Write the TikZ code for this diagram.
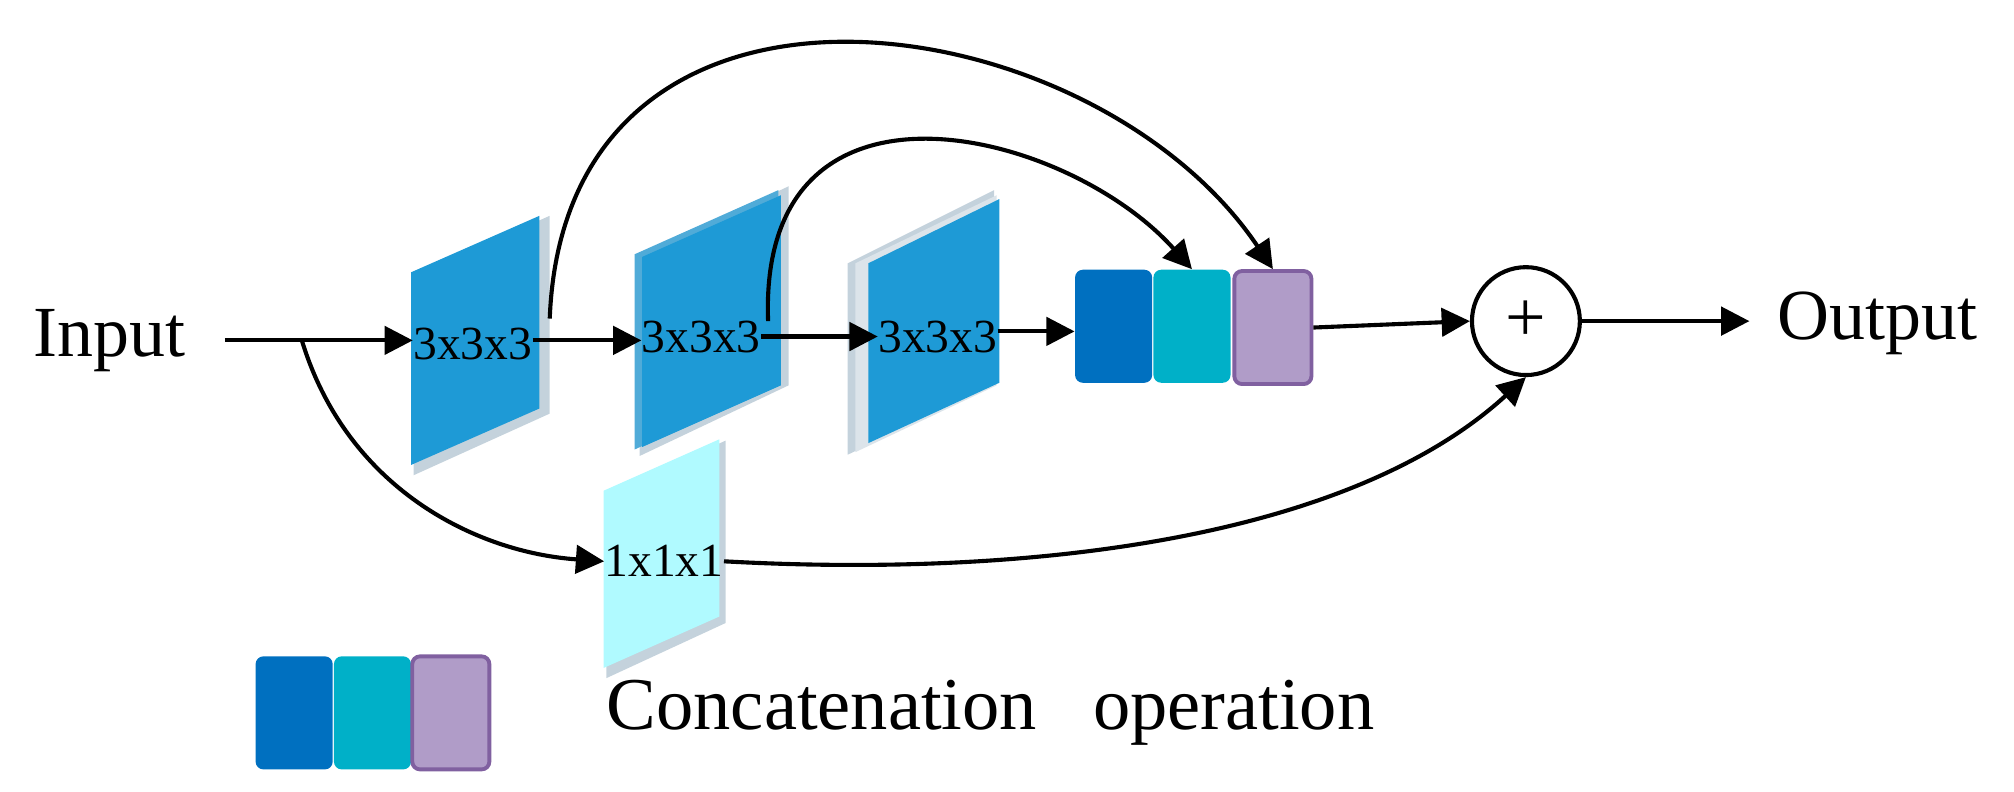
\documentclass[tikz,border=0pt]{standalone}
\usepackage{fontspec}
\setmainfont{Liberation Serif}
\usetikzlibrary{arrows.meta}
\definecolor{blk}{HTML}{1E9AD6}
\definecolor{edge}{HTML}{C4D2DC}
\definecolor{cdark}{HTML}{0070C0}
\definecolor{cteal}{HTML}{00B0C8}
\definecolor{cpur}{HTML}{B09CC8}
\definecolor{cpurb}{HTML}{8060A0}
\definecolor{light}{HTML}{B0FAFF}
\begin{document}
\begin{tikzpicture}[x=0.5pt,y=-0.5pt,
  arr/.style={line width=1.6pt,-{Triangle[length=11pt,width=11pt]}},
  lbl/.style={font=\fontsize{18.5}{18.5}\selectfont,inner sep=0pt},
  big/.style={font=\fontsize{28}{28}\selectfont,inner sep=0pt},
  cbox/.style={rounded corners=3pt,minimum width=30pt,minimum height=44pt,inner sep=0pt}]
\useasboundingbox (0,0) rectangle (1568,616);
% block 1
\fill[edge] (322,215) -- (428,168) -- (428,322) -- (322,370) -- cycle;
\fill[blk] (320,212) -- (420,168) -- (420,318) -- (320,362) -- cycle;
% block 2
\fill[edge] (498,200) -- (614,145) -- (614,300) -- (498,355) -- cycle;
\fill[blk!70!edge] (494,198) -- (606,148) -- (606,298) -- (494,350) -- cycle;
\fill[blk] (500,200) -- (608,152) -- (608,300) -- (500,348) -- cycle;
% block 3
\fill[edge] (660,205) -- (774,148) -- (774,300) -- (660,354) -- cycle;
\fill[edge!60] (666,205) -- (776,152) -- (776,300) -- (666,352) -- cycle;
\fill[blk] (676,205) -- (778,155) -- (778,298) -- (676,345) -- cycle;
% block 1x1x1
\fill[edge] (472,385) -- (565,343) -- (565,485) -- (472,528) -- cycle;
\fill[light] (470,382) -- (560,342) -- (560,480) -- (470,520) -- cycle;
% texts
\node[big] (in) at (85,265) {Input};
\node[big] (out) at (1462,252) {Output};
\node[lbl] (b1) at (368,268) {3x3x3};
\node[lbl] (b2) at (546,262) {3x3x3};
\node[lbl] (b3) at (730,262) {3x3x3};
\node[lbl] (b4) at (517,437) {1x1x1};
% concat
\node[cbox,fill=cdark] (c1) at (867,254) {};
\node[cbox,fill=cteal] (c2) at (928,254) {};
\node[cbox,fill=cpur,draw=cpurb,line width=1.5pt] (c3) at (991,255) {};
\node[circle,draw,line width=1.6pt,minimum size=42pt,inner sep=0pt,font=\fontsize{28}{28}\selectfont] (plus) at (1188,250) {+};
% legend
\node[cbox,fill=cdark] (l1) at (229,555) {};
\node[cbox,fill=cteal] (l2) at (290,555) {};
\node[cbox,fill=cpur,draw=cpurb,line width=1.5pt] (l3) at (351,555) {};
\node[big,anchor=west,font=\fontsize{29}{29}\selectfont] (leg) at (472,555) {Concatenation\ \ \ operation};
% arrows
\coordinate (s0) at (175,265);
\coordinate (br) at (235,265);
\coordinate (t1) at (428,248);
\coordinate (t2) at (598,250);
\draw[arr] (s0) -- (s0 -| b1.west);
\draw[arr] (b1.east |- 0,265) -- (b2.west |- 0,265);
\draw[arr] (b2.east |- 0,262) -- (b3.west |- 0,262);
\draw[arr] (b3.east |- 0,258) -- (c1.west |- 0,258);
\draw[arr] (c3.east) -- (plus.west);
\draw[arr] (plus.east) -- (1362,250) coordinate (oe);
\draw[arr] (br) .. controls (270,380) and (370,430) .. (b4.west);
\draw[arr] (b4.east) .. controls (800,450) and (1050,420) .. (plus.south);
\draw[arr] (t1) .. controls (440,-60) and (850,0) .. (c3.north);
\draw[arr] (t2) .. controls (590,40) and (830,100) .. (c2.north);
\end{tikzpicture}
\end{document}
